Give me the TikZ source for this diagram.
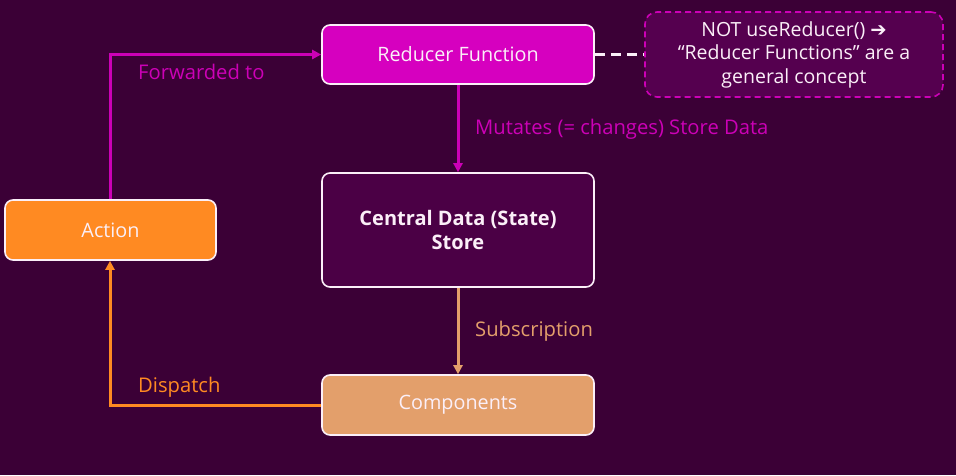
\documentclass[tikz,border=0pt]{standalone}
\usepackage{fontspec}
\setmainfont{Open Sans}
\newfontfamily\symfont{DejaVu Sans}
\usetikzlibrary{arrows.meta}
\definecolor{bgc}{HTML}{3B0036}
\definecolor{redc}{HTML}{D600BF}
\definecolor{magl}{HTML}{CC00B6}
\definecolor{orc}{HTML}{FF8A22}
\definecolor{tanc}{HTML}{E39F6B}
\definecolor{storec}{HTML}{4B0045}
\definecolor{notec}{HTML}{55004F}
\definecolor{txtc}{HTML}{FBEFF8}
\tikzset{
  box/.style={draw=txtc, line width=1.6pt, rounded corners=8pt, inner sep=0pt, text=txtc, font=\fontsize{19.8}{22}\selectfont},
  conn/.style={line width=3pt, -{Triangle[length=9pt,width=9pt]}},
  lbl/.style={font=\fontsize{20.2}{22}\selectfont, anchor=west, inner sep=0pt},
}
\begin{document}
\begin{tikzpicture}[x=1pt,y=-1pt]
\fill[bgc] (0,0) rectangle (956,475);
\useasboundingbox (0,0) rectangle (956,475);
\node[box, fill=redc, minimum width=272pt, minimum height=59pt] (red) at (458,54.5) {Reducer Function};
\node[box, fill=orc, minimum width=211pt, minimum height=60pt] (act) at (110.5,230) {Action};
\node[box, fill=storec, minimum width=272pt, minimum height=114pt, align=center, font=\fontsize{20}{24}\selectfont\bfseries] (store) at (458,230) {Central Data (State)\\Store};
\node[box, fill=tanc, minimum width=272pt, minimum height=60pt] (comp) at (458,405) {Components};
\node[draw=magl, dashed, dash pattern=on 6pt off 4pt, line width=1.6pt, rounded corners=12pt, fill=notec, minimum width=298pt, minimum height=85pt, text=txtc, align=center, font=\fontsize{19.5}{23.5}\selectfont, inner sep=0pt] (note) at (794,54.5) {NOT useReducer() {\symfont\bfseries ➔}\\“Reducer Functions” are a\\general concept};
\coordinate (fwd) at (110,54.5);
\coordinate (dsp) at (110,405);
\draw[conn, magl] (act.north -| fwd) -- (fwd) -- (red.west);
\draw[conn, magl] (red.south) -- (store.north);
\draw[conn, tanc] (store.south) -- (comp.north);
\draw[conn, orc] (comp.west) -- (dsp) -- (act.south -| dsp);
\draw[txtc, line width=3pt, dash pattern=on 10pt off 6pt] (red.east) -- (note.west);
\node[lbl, text=magl] (l1) at (138,72) {Forwarded to};
\node[lbl, text=magl] (l2) at (475,129.5) {Mutates (= changes) Store Data};
\node[lbl, text=tanc] (l3) at (475,331.5) {Subscription};
\node[lbl, text=orc] (l4) at (138,387) {Dispatch};
\end{tikzpicture}
\end{document}
